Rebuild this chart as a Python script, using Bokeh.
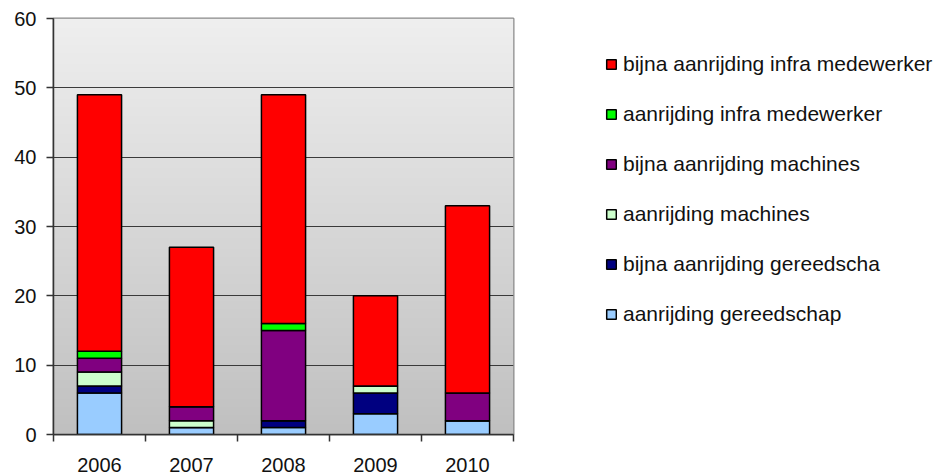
import numpy as np
from bokeh.plotting import figure
from bokeh.models import (ColumnDataSource, FixedTicker, Range1d, Legend, LegendItem)
from bokeh.embed import file_html
from bokeh.resources import INLINE

years = ["2006", "2007", "2008", "2009", "2010"]
aanrijding_gereedschap = [6, 1, 1, 3, 2]
bijna_aanrijding_gereedscha = [1, 0, 1, 3, 0]
aanrijding_machines = [2, 1, 0, 1, 0]
bijna_aanrijding_machines = [2, 2, 13, 0, 4]
aanrijding_infra_medewerker = [1, 0, 1, 0, 0]
bijna_aanrijding_infra_medewerker = [37, 23, 33, 13, 27]

series_names = ["aanrijding gereedschap", "bijna aanrijding gereedscha",
                "aanrijding machines", "bijna aanrijding machines",
                "aanrijding infra medewerker", "bijna aanrijding infra medewerker"]
series_values = [aanrijding_gereedschap, bijna_aanrijding_gereedscha,
                 aanrijding_machines, bijna_aanrijding_machines,
                 aanrijding_infra_medewerker, bijna_aanrijding_infra_medewerker]
colors = ["#99CCFF", "#000080", "#CCFFCC", "#800080", "#00FF00", "#FF0000"]
y_ticks = [0, 10, 20, 30, 40, 50, 60]

FONT = "Liberation Sans"
xs = list(range(1, len(years) + 1))
keys = [f"s{i}" for i in range(len(series_names))]
data = {"x": xs}
for k, v in zip(keys, series_values):
    data[k] = v
src = ColumnDataSource(data)

p = figure(frame_width=460, frame_height=416, output_backend="svg", toolbar_location=None,
           x_range=Range1d(0.5, len(years) + 0.5), y_range=Range1d(0, 60),
           min_border_left=53, min_border_right=30, min_border_top=18,
           min_border_bottom=20)
p.background_fill_color = None
p.border_fill_color = "white"

# gradient background
n = 200
t = np.linspace(0, 1, n)
top = np.array([239, 239, 239]); bot = np.array([192, 192, 192])
img = np.zeros((n, 1), dtype=np.uint32)
view = img.view(dtype=np.uint8).reshape((n, 1, 4))
for i in range(n):
    c = bot + (top - bot) * t[i]
    view[i, 0, 0:3] = c.astype(np.uint8)
    view[i, 0, 3] = 255
p.image_rgba(image=[img], x=0.5, y=0, dw=len(years), dh=60, level="image")

renderers = p.vbar_stack(keys, x="x", width=0.48, source=src, fill_color=colors,
                         line_color="black", line_width=1.5)

# grid
p.xgrid.visible = False
p.ygrid.ticker = FixedTicker(ticks=y_ticks)
p.ygrid.grid_line_color = "#3a3a3a"
p.ygrid.grid_line_width = 1.2
p.ygrid.level = "underlay"

p.outline_line_color = "#8a8a8a"
p.outline_line_width = 2

# y axis
p.yaxis.ticker = FixedTicker(ticks=y_ticks)
p.yaxis.axis_line_color = "#333333"
p.yaxis.axis_line_width = 1.5
p.yaxis.major_tick_out = 7
p.yaxis.major_tick_in = 0
p.yaxis.minor_tick_out = 0
p.yaxis.major_tick_line_color = "#333333"
p.yaxis.major_tick_line_width = 1.5
p.yaxis.major_label_text_font = FONT
p.yaxis.major_label_text_font_size = "20px"
p.yaxis.major_label_text_color = "#111111"
p.yaxis.major_label_standoff = 10

# x axis: labels at centres, ticks at boundaries
p.xaxis.ticker = FixedTicker(ticks=xs, minor_ticks=[x - 0.5 for x in xs] + [xs[-1] + 0.5])
p.xaxis.major_label_overrides = {x: y for x, y in zip(xs, years)}
p.xaxis.major_tick_out = 0
p.xaxis.major_tick_in = 0
p.xaxis.minor_tick_out = 7
p.xaxis.minor_tick_in = 0
p.xaxis.minor_tick_line_color = "#333333"
p.xaxis.minor_tick_line_width = 1.5
p.xaxis.axis_line_color = "#333333"
p.xaxis.axis_line_width = 1.5
p.xaxis.major_label_text_font = FONT
p.xaxis.major_label_text_font_size = "20px"
p.xaxis.major_label_text_color = "#111111"
p.xaxis.major_label_standoff = 16

items = [LegendItem(label=name, renderers=[r]) for name, r in zip(series_names, renderers)]
items = items[::-1]
legend = Legend(items=items, location=(92, 108), orientation="vertical",
                glyph_width=12, glyph_height=12, label_height=20, spacing=26,
                label_standoff=6, padding=0, margin=0,
                label_text_font=FONT, label_text_font_size="21px",
                label_text_color="#111111",
                border_line_color=None, background_fill_color=None)
p.add_layout(legend, "right")

open("out.html", "w").write(file_html(p, INLINE))
